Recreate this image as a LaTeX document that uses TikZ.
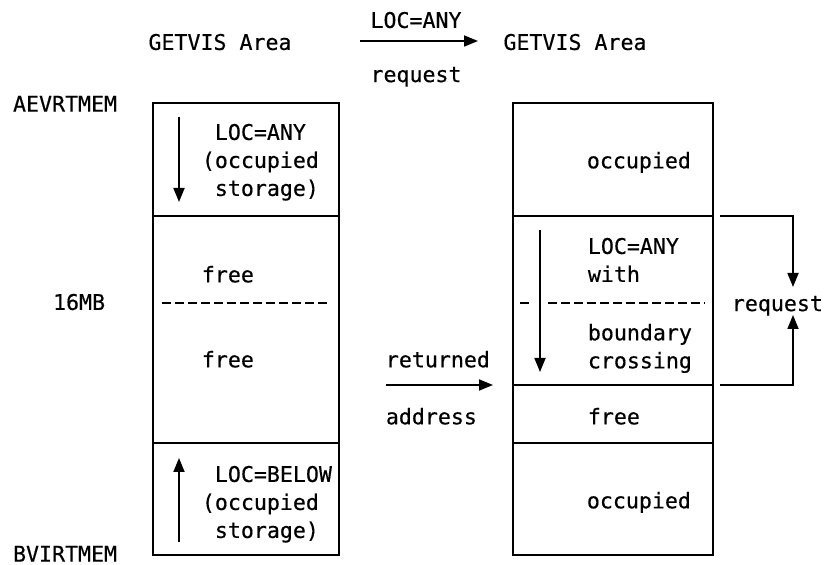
\documentclass[tikz,border=0pt]{standalone}
\usepackage{fontspec}
\setmainfont{DejaVu Sans Mono}[FakeBold=0.4]
\usetikzlibrary{arrows.meta}

\begin{document}
\begin{tikzpicture}[
  x=0.5pt, y=-0.5pt,
  line width=0.9pt,
  txt/.style={inner sep=0pt, font=\fontsize{10.8}{14}\selectfont, align=left},
  arrow/.style={-{Triangle[length=7pt,width=5.5pt]}, line width=0.9pt},
  sep/.style={line width=0.9pt, dash pattern=on 4.5pt off 2pt}
]
\useasboundingbox (0,0) rectangle (830,565);

% Headings
\node[txt, anchor=north] (titleL) at (220,33) {GETVIS Area};
\node[txt, anchor=north] (titleR) at (575,33) {GETVIS Area};
\node[txt, anchor=north] (locTop) at (416,11) {LOC=ANY};
\node[txt, anchor=north] (reqTop) at (416,66) {request};
\coordinate (reqA) at (360,41);
\coordinate (reqB) at (478,41);
\draw[arrow] (reqA) -- (reqB);

% Left area
\draw (153,103) rectangle (339,555);
\draw (153,216) -- (339,216);
\draw (153,443) -- (339,443);
\draw[sep] (162,303) -- (331,303);

\node[txt, anchor=north east] (aevrt) at (118,95)  {AEVRTMEM};
\node[txt, anchor=north east] (mb16)  at (106,293) {16MB};
\node[txt, anchor=north east] (bvirt) at (118,545) {BVIRTMEM};

\coordinate (anyA) at (179,117);
\coordinate (anyB) at (179,202);
\draw[arrow] (anyA) -- (anyB);
\coordinate (belowA) at (179,542);
\coordinate (belowB) at (179,458);
\draw[arrow] (belowA) -- (belowB);

\node[txt, anchor=north west] (anyL)   at (201,123) {\hphantom{x}LOC=ANY\\(occupied\\\hphantom{x}storage)};
\node[txt, anchor=north west] (freeA)  at (201,265) {free};
\node[txt, anchor=north west] (freeB)  at (201,350) {free};
\node[txt, anchor=north west] (belowL) at (201,465) {\hphantom{x}LOC=BELOW\\(occupied\\\hphantom{x}storage)};

% Right area
\draw (513,103) rectangle (713,555);
\draw (513,216) -- (713,216);
\draw (513,385) -- (713,385);
\draw (513,443) -- (713,443);
\draw[sep] (520,303) -- (531,303);
\draw[sep] (548,303) -- (705,303);

\coordinate (crossA) at (540,230);
\coordinate (crossB) at (540,372);
\draw[arrow] (crossA) -- (crossB);

\node[txt, anchor=north west] (occA)  at (586,151) {occupied};
\node[txt, anchor=north west] (anyR)  at (587,237) {LOC=ANY\\with};
\node[txt, anchor=north west] (bound) at (587,323) {boundary\\crossing};
\node[txt, anchor=north west] (freeR) at (587,407) {free};
\node[txt, anchor=north west] (occB)  at (586,491) {occupied};

% Returned address
\node[txt, anchor=north west] (ret)  at (385,350) {returned};
\node[txt, anchor=north west] (addr) at (385,407) {address};
\coordinate (retA) at (386,385);
\coordinate (retB) at (493,385);
\draw[arrow] (retA) -- (retB);

% Request bracket
\node[txt, anchor=north west] (reqR) at (731,295) {request};
\coordinate (brTop) at (720,216);
\coordinate (brTopTip) at (793,287);
\coordinate (brBot) at (720,385);
\coordinate (brBotTip) at (793,315);
\draw[arrow] (brTop) -| (brTopTip);
\draw[arrow] (brBot) -| (brBotTip);

\end{tikzpicture}
\end{document}
